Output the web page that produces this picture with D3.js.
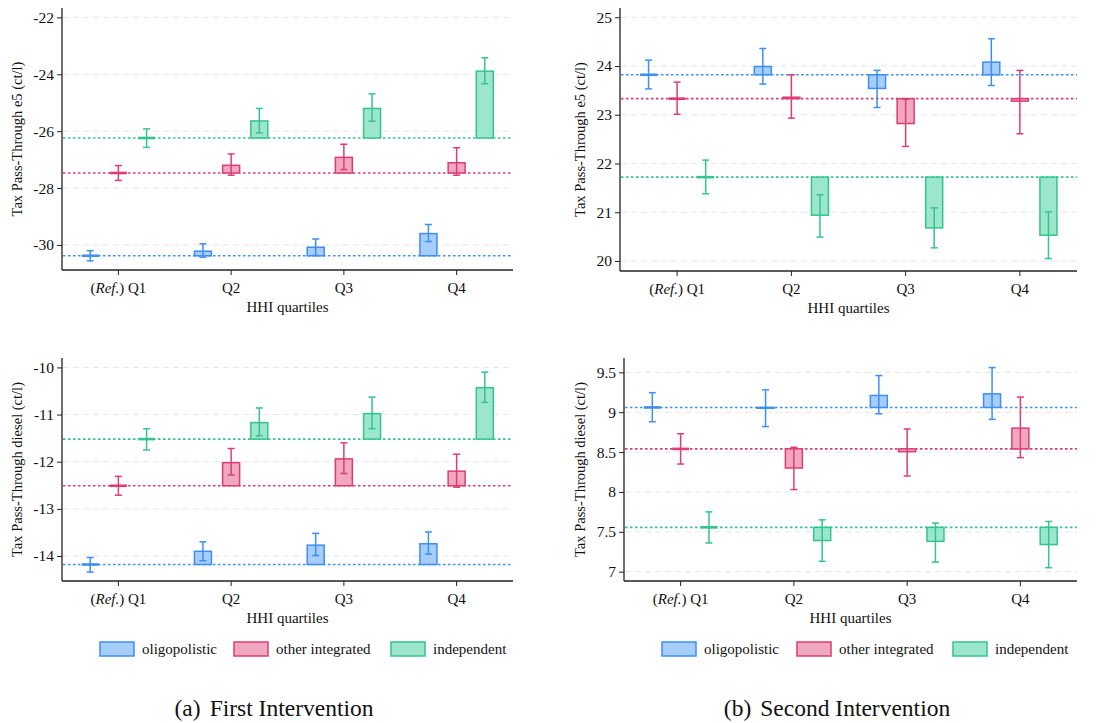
<!DOCTYPE html>
<html>
<head>
<meta charset="utf-8">
<script src="https://cdn.jsdelivr.net/npm/d3@7"></script>
<style>
  html, body { margin: 0; padding: 0; background: #fff; }
  svg { display: block; font-family: "Liberation Serif", "Times New Roman", serif; }
</style>
</head>
<body>
<svg id="chart" width="1099" height="723"></svg>
<script>
// ---------- data ----------
const quartiles = ["Q1", "Q2", "Q3", "Q4"];
const groups = ["oligopolistic", "other integrated", "independent"];

// First intervention, e5 (rows: oligopolistic, other integrated, independent; cols: Q1..Q4)
const e5FirstEst = [[-30.38, -30.22, -30.08, -29.60], [-27.47, -27.20, -26.92, -27.11], [-26.24, -25.64, -25.20, -23.89]];
const e5FirstLo  = [[-30.56, -30.43, -30.37, -29.88], [-27.73, -27.55, -27.35, -27.55], [-26.57, -26.06, -25.65, -24.33]];
const e5FirstHi  = [[-30.20, -29.96, -29.79, -29.28], [-27.21, -26.80, -26.46, -26.58], [-25.92, -25.20, -24.69, -23.42]];
const e5FirstTicks = [-30, -28, -26, -24, -22];

// Second intervention, e5
const e5SecondEst = [[23.82, 23.99, 23.54, 24.08], [23.33, 23.36, 22.82, 23.28], [21.72, 20.94, 20.68, 20.53]];
const e5SecondLo  = [[23.53, 23.63, 23.15, 23.60], [23.01, 22.93, 22.35, 22.61], [21.38, 20.49, 20.27, 20.05]];
const e5SecondHi  = [[24.12, 24.36, 23.91, 24.56], [23.67, 23.82, 23.32, 23.91], [22.07, 21.36, 21.09, 21.01]];
const e5SecondTicks = [20, 21, 22, 23, 24, 25];

// First intervention, diesel
const dieselFirstEst = [[-14.18, -13.90, -13.77, -13.74], [-12.51, -12.02, -11.94, -12.20], [-11.52, -11.17, -10.98, -10.43]];
const dieselFirstLo  = [[-14.34, -14.10, -13.99, -13.96], [-12.71, -12.28, -12.25, -12.54], [-11.75, -11.45, -11.30, -10.74]];
const dieselFirstHi  = [[-14.03, -13.70, -13.52, -13.49], [-12.31, -11.72, -11.60, -11.84], [-11.30, -10.86, -10.63, -10.10]];
const dieselFirstTicks = [-14, -13, -12, -11, -10];

// Second intervention, diesel
const dieselSecondEst = [[9.06, 9.05, 9.21, 9.23], [8.54, 8.30, 8.505, 8.80], [7.556, 7.39, 7.38, 7.34]];
const dieselSecondLo  = [[8.88, 8.82, 8.98, 8.91], [8.35, 8.03, 8.20, 8.43], [7.36, 7.13, 7.12, 7.05]];
const dieselSecondHi  = [[9.245, 9.28, 9.46, 9.56], [8.73, 8.56, 8.79, 9.19], [7.75, 7.65, 7.61, 7.63]];
const dieselSecondTicks = [7, 7.5, 8, 8.5, 9, 9.5];

const yTitles = ["Tax Pass-Through e5 (ct/l)", "Tax Pass-Through diesel (ct/l)"];
const xTitle = "HHI quartiles";
const captions = [["(a)", "First Intervention"], ["(b)", "Second Intervention"]];

// ---------- styles ----------
const strokeCol = ["#3d8ef5", "#dc3d75", "#34c48f"];
const fillCol   = ["#a7cdfb", "#f0a8c0", "#9ce6cb"];

const svg = d3.select("#chart");

const panels = [
  { est: e5FirstEst, lo: e5FirstLo, hi: e5FirstHi, ticks: e5FirstTicks, dom: [-30.88, -21.67],
    left: 62, right: 513, top: 8, bottom: 270, yTitle: yTitles[0], yTitleX: 17 },
  { est: e5SecondEst, lo: e5SecondLo, hi: e5SecondHi, ticks: e5SecondTicks, dom: [19.795, 25.19],
    left: 620, right: 1077, top: 8, bottom: 271, yTitle: yTitles[0], yTitleX: 580 },
  { est: dieselFirstEst, lo: dieselFirstLo, hi: dieselFirstHi, ticks: dieselFirstTicks, dom: [-14.53, -9.80],
    left: 62, right: 513, top: 358, bottom: 581, yTitle: yTitles[1], yTitleX: 17 },
  { est: dieselSecondEst, lo: dieselSecondLo, hi: dieselSecondHi, ticks: dieselSecondTicks, dom: [6.883, 9.68],
    left: 624, right: 1077, top: 358, bottom: 581, yTitle: yTitles[1], yTitleX: 580 }
];

const fmt = v => String(v); // keeps hyphen-minus like the reference

panels.forEach(p => {
  const g = svg.append("g");
  const x = d3.scaleBand().domain(quartiles).range([p.left, p.right]).padding(0);
  const y = d3.scaleLinear().domain(p.dom).range([p.bottom, p.top]);
  const bw = x.bandwidth();
  const off = [-0.25 * bw, 0, 0.25 * bw];
  const barW = 17;
  const capW = 7;

  // grid
  g.append("g").selectAll("line").data(p.ticks).join("line")
    .attr("x1", p.left + 1).attr("x2", p.right)
    .attr("y1", d => y(d)).attr("y2", d => y(d))
    .attr("stroke", "#e6e6e6").attr("stroke-width", 1).attr("stroke-dasharray", "6,4");

  // baselines (reference Q1 level)
  g.append("g").selectAll("line").data(groups).join("line")
    .attr("x1", p.left + 1).attr("x2", p.right)
    .attr("y1", (d, i) => y(p.est[i][0])).attr("y2", (d, i) => y(p.est[i][0]))
    .attr("stroke", (d, i) => strokeCol[i]).attr("stroke-width", 1.6).attr("stroke-dasharray", "2.5,2.5");

  groups.forEach((gr, i) => {
    const base = p.est[i][0];
    quartiles.forEach((q, j) => {
      const cx = x(q) + bw / 2 + off[i];
      const v = p.est[i][j];
      if (j === 0) {
        g.append("line")
          .attr("x1", cx - barW / 2).attr("x2", cx + barW / 2)
          .attr("y1", y(v)).attr("y2", y(v))
          .attr("stroke", strokeCol[i]).attr("stroke-width", 2.6);
      } else {
        const y0 = Math.min(y(v), y(base)), y1 = Math.max(y(v), y(base));
        g.append("rect")
          .attr("x", cx - barW / 2).attr("y", y0)
          .attr("width", barW).attr("height", Math.max(y1 - y0, 0.01))
          .attr("fill", fillCol[i]).attr("stroke", strokeCol[i]).attr("stroke-width", 1.5);
      }
      // error bar
      const eg = g.append("g").attr("stroke", strokeCol[i]).attr("stroke-width", 1.5);
      eg.append("line").attr("x1", cx).attr("x2", cx).attr("y1", y(p.lo[i][j])).attr("y2", y(p.hi[i][j]));
      eg.append("line").attr("x1", cx - capW / 2).attr("x2", cx + capW / 2).attr("y1", y(p.lo[i][j])).attr("y2", y(p.lo[i][j]));
      eg.append("line").attr("x1", cx - capW / 2).attr("x2", cx + capW / 2).attr("y1", y(p.hi[i][j])).attr("y2", y(p.hi[i][j]));
    });
  });

  // y axis
  const ya = g.append("g").attr("transform", `translate(${p.left},0)`)
    .call(d3.axisLeft(y).tickValues(p.ticks).tickFormat(fmt).tickSize(5).tickSizeOuter(0));
  ya.select(".domain").attr("d", `M0,${p.top}V${p.bottom}`).attr("stroke", "#222").attr("stroke-width", 1.3);
  ya.selectAll(".tick line").attr("stroke", "#222").attr("stroke-width", 1);
  ya.selectAll(".tick text").attr("font-family", "Liberation Serif, serif").attr("font-size", 15.5).attr("fill", "#111").attr("x", -8);

  // x axis
  const xa = g.append("g").attr("transform", `translate(0,${p.bottom})`)
    .call(d3.axisBottom(x).tickSize(5).tickSizeOuter(0));
  xa.select(".domain").attr("d", `M${p.left},0H${p.right}`).attr("stroke", "#222").attr("stroke-width", 1.3);
  xa.selectAll(".tick line").attr("stroke", "#222").attr("stroke-width", 1);
  xa.selectAll(".tick text").attr("font-family", "Liberation Serif, serif").attr("font-size", 15).attr("fill", "#111").attr("dy", "1.02em")
    .each(function(d) {
      if (d === "Q1") {
        const t = d3.select(this).text("");
        t.append("tspan").text("(");
        t.append("tspan").attr("font-style", "italic").text("Ref.");
        t.append("tspan").text(") Q1");
      }
    });

  // axis titles
  g.append("text").attr("x", (p.left + p.right) / 2).attr("y", p.bottom + 42)
    .attr("text-anchor", "middle").attr("font-size", 15).attr("fill", "#111").text(xTitle);
  g.append("text").attr("transform", `translate(${p.yTitleX + 5},${(p.top + p.bottom) / 2}) rotate(-90)`)
    .attr("text-anchor", "middle").attr("font-size", 14.5).attr("fill", "#111").text(p.yTitle);
});

// legends
const legendX = [[100, 234, 391], [662, 797, 953]];
legendX.forEach(xs => {
  const lg = svg.append("g");
  groups.forEach((gr, i) => {
    lg.append("rect").attr("x", xs[i]).attr("y", 642).attr("width", 34).attr("height", 14)
      .attr("fill", fillCol[i]).attr("stroke", strokeCol[i]).attr("stroke-width", 1.5);
    lg.append("text").attr("x", xs[i] + 42).attr("y", 654).attr("font-size", 15).attr("fill", "#111").text(gr);
  });
});

// captions
const capX = [274, 837];
captions.forEach((c, k) => {
  const t = svg.append("text").attr("x", capX[k]).attr("y", 716).attr("text-anchor", "middle")
    .attr("font-size", 23.5).attr("fill", "#111");
  t.append("tspan").text(c[0]);
  t.append("tspan").attr("dx", 9).text(c[1]);
});
</script>
</body>
</html>
